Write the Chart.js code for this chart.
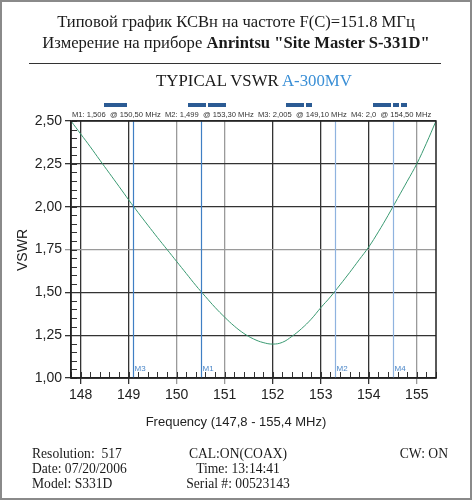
<!DOCTYPE html>
<html>
<head>
<meta charset="utf-8">
<script src="https://cdn.jsdelivr.net/npm/chart.js@4.4.0/dist/chart.umd.min.js"></script>
<style>
  html, body { margin: 0; padding: 0; background: #fff; }
  #page { position: relative; width: 472px; height: 500px; box-sizing: border-box; border: 2px solid #8a8a8a; overflow: hidden; }
  #c { position: absolute; left: -2px; top: -2px; }
  .t { position: absolute; white-space: nowrap; font-family: "Liberation Serif", "DejaVu Serif", serif; color: #1a1a1a; }
  .s { position: absolute; white-space: nowrap; font-family: "Liberation Sans", Arial, sans-serif; color: #222; }
  .bar { position: absolute; height: 4px; background: #2b5b94; }
</style>
</head>
<body>
<div id="page">
  <canvas id="c" width="472" height="500"></canvas>
  <div class="t" style="left:0;width:468px;text-align:center;top:10px;font-size:16.6px;">Типовой график КСВн на частоте F(C)=151.8 МГц</div>
  <div class="t" style="left:0;width:468px;text-align:center;top:31px;font-size:16.6px;">Измерение на приборе <b>Anrintsu "Site Master S-331D"</b></div>
  <div style="position:absolute;left:27px;top:61px;width:412px;height:1px;background:#333;"></div>
  <div class="t" style="left:18px;width:468px;text-align:center;top:69px;font-size:16.8px;">TYPICAL VSWR <span style="color:#3a8fd6">A-300MV</span></div>

  <div class="bar" style="left:102px;top:101px;width:23px;"></div>
  <div class="bar" style="left:186px;top:101px;width:18px;"></div>
  <div class="bar" style="left:206px;top:101px;width:18px;"></div>
  <div class="bar" style="left:284px;top:101px;width:18px;"></div>
  <div class="bar" style="left:304px;top:101px;width:6px;"></div>
  <div class="bar" style="left:371px;top:101px;width:18px;"></div>
  <div class="bar" style="left:391px;top:101px;width:6px;"></div>
  <div class="bar" style="left:399px;top:101px;width:6px;"></div>

  <div class="s" id="mk" style="left:70px;top:108px;font-size:7.6px;color:#333;"></div>

  <div class="s" style="left:-3px;top:240px;font-size:14px;transform:rotate(-90deg);transform-origin:center;width:46px;text-align:center;">VSWR</div>
  <div class="s" style="left:0;width:468px;text-align:center;top:412px;font-size:13px;">Frequency (147,8 - 155,4 MHz)</div>

  <div class="t" style="left:30px;top:444px;font-size:13.6px;line-height:15px;">Resolution:&nbsp; 517<br>Date: 07/20/2006<br>Model: S331D</div>
  <div class="t" style="left:136px;width:200px;text-align:center;top:444px;font-size:13.6px;line-height:15px;">CAL:ON(COAX)<br>Time: 13:14:41<br>Serial #: 00523143</div>
  <div class="t" style="right:22px;top:444px;font-size:13.6px;line-height:15px;">CW: ON</div>
</div>
<script>
// measured trace (MHz, VSWR)
const freqs = [147.8, 148.0, 148.2, 148.4, 148.6, 148.8, 149.0, 149.2, 149.4, 149.6,
  149.8, 150.0, 150.2, 150.4, 150.6, 150.8, 151.0, 151.2, 151.4, 151.6,
  151.8, 152.0, 152.2, 152.4, 152.6, 152.8, 153.0, 153.2, 153.4, 153.6,
  153.8, 154.0, 154.2, 154.4, 154.6, 154.8, 155.0, 155.2, 155.4];
const vswr = [2.50, 2.425, 2.35, 2.272, 2.195, 2.118, 2.04, 1.965, 1.892, 1.82,
  1.75, 1.68, 1.61, 1.54, 1.475, 1.412, 1.355, 1.303, 1.26, 1.228,
  1.207, 1.198, 1.208, 1.243, 1.288, 1.343, 1.41, 1.473, 1.543, 1.615,
  1.69, 1.765, 1.853, 1.948, 2.048, 2.148, 2.25, 2.37, 2.50];

const markerNames = ['M1', 'M2', 'M3', 'M4'];
const markerFreqs = [150.5, 153.3, 149.1, 154.5];
const markerVals = ['1,506', '1,499', '2,005', '2,0'];
const markerColors = ['#3f7fc4', '#8fb3df', '#3f7fc4', '#8fb3df'];

const xTicks = [148, 149, 150, 151, 152, 153, 154, 155];
const yTicks = [1.00, 1.25, 1.50, 1.75, 2.00, 2.25, 2.50];
const grayX = [150, 151, 155];
const grayY = [1.75];

// marker readout line
document.getElementById('mk').innerHTML = markerNames.map((m, i) =>
  m + ': ' + markerVals[i] + '&nbsp; @ ' + markerFreqs[i].toFixed(2).replace('.', ',') + ' MHz'
).join('&nbsp; ');

const frame = {
  id: 'frame',
  afterDatasetsDraw(chart) {
    const { ctx, chartArea: a, scales: { x, y } } = chart;
    ctx.save();
    // markers
    ctx.lineWidth = 1.2;
    ctx.font = '8px "Liberation Sans", Arial, sans-serif';
    markerFreqs.forEach((f, i) => {
      const px = Math.round(x.getPixelForValue(f)) + 0.5;
      ctx.strokeStyle = markerColors[i];
      ctx.beginPath(); ctx.moveTo(px, a.top); ctx.lineTo(px, a.bottom); ctx.stroke();
      ctx.fillStyle = '#4a86c8';
      ctx.fillText(markerNames[i], px + 1, a.bottom - 7);
    });
    // minor ticks
    ctx.strokeStyle = '#333';
    ctx.lineWidth = 1;
    ctx.beginPath();
    for (let i = 0; i <= 38; i++) {
      const px = Math.round(x.getPixelForValue(147.8 + i * 0.2)) + 0.5;
      ctx.moveTo(px, a.bottom); ctx.lineTo(px, a.bottom - 6);
    }
    for (let i = 0; i <= 30; i++) {
      const py = Math.round(y.getPixelForValue(1 + i * 0.05)) + 0.5;
      ctx.moveTo(a.left, py); ctx.lineTo(a.left + 6, py);
    }
    ctx.stroke();
    // frame
    ctx.lineWidth = 1.5;
    ctx.strokeStyle = '#222';
    ctx.strokeRect(a.left, a.top, a.right - a.left, a.bottom - a.top);
    ctx.restore();
  }
};

new Chart(document.getElementById('c'), {
  type: 'scatter',
  data: {
    datasets: [{
      data: freqs.map((f, i) => ({ x: f, y: vswr[i] })),
      showLine: true,
      borderColor: '#3a9a72',
      borderWidth: 1,
      pointRadius: 0,
      tension: 0.4
    }]
  },
  options: {
    responsive: false,
    animation: false,
    layout: { padding: { left: 0, right: 36, top: 121, bottom: 0 } },
    plugins: { legend: { display: false }, tooltip: { enabled: false } },
    scales: {
      x: {
        type: 'linear', min: 147.8, max: 155.4,
        afterBuildTicks: s => { s.ticks = xTicks.map(v => ({ value: v })); },
        afterFit: s => { s.height = 122; },
        grid: {
          color: c => grayX.includes(c.tick && c.tick.value) ? '#9a9a9a' : '#333',
          lineWidth: 1.3, tickLength: 6
        },
        border: { color: '#222', width: 1.5 },
        ticks: { color: '#222', padding: 3, font: { family: '"Liberation Sans", Arial, sans-serif', size: 14 } }
      },
      y: {
        min: 1, max: 2.5,
        afterBuildTicks: s => { s.ticks = yTicks.map(v => ({ value: v })); },
        afterFit: s => { s.width = 71; },
        grid: {
          color: c => grayY.includes(c.tick && c.tick.value) ? '#9a9a9a' : '#333',
          lineWidth: 1.3, tickLength: 6
        },
        border: { color: '#222', width: 1.5 },
        ticks: {
          color: '#222', padding: 3,
          font: { family: '"Liberation Sans", Arial, sans-serif', size: 14 },
          callback: v => v.toFixed(2).replace('.', ',')
        }
      }
    }
  },
  plugins: [frame]
});
</script>
</body>
</html>
